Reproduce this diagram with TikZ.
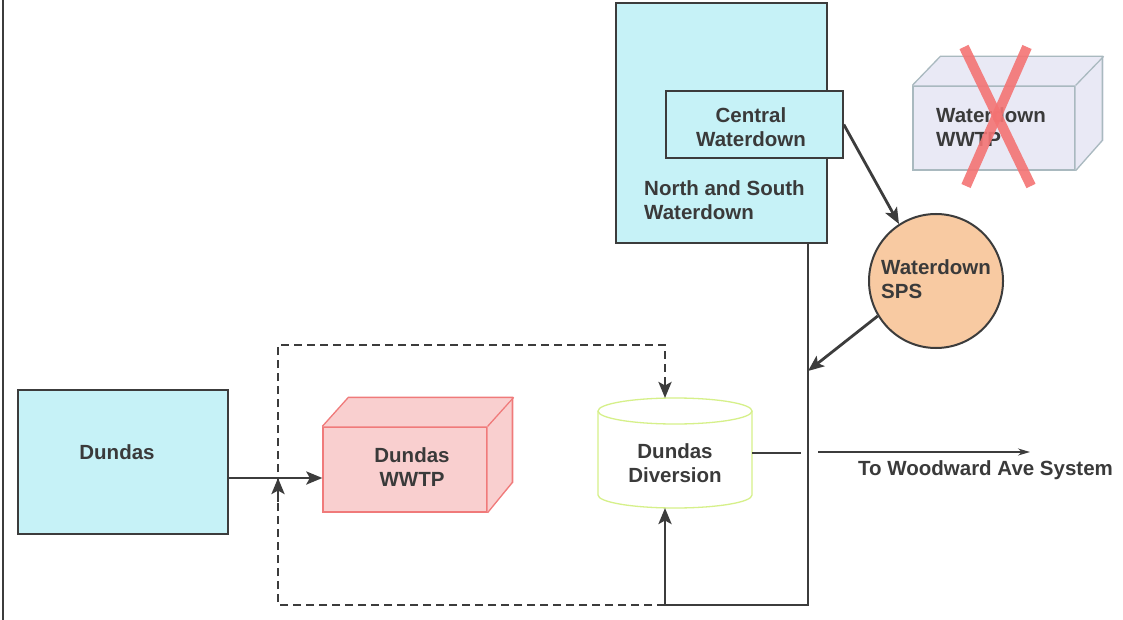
\documentclass[tikz,border=0pt]{standalone}
\usepackage{fontspec}
\setmainfont{Liberation Sans}
\usetikzlibrary{arrows.meta}
\definecolor{txt}{HTML}{3A3A3A}
\definecolor{edge}{HTML}{3C3C3C}
\definecolor{cyanfill}{HTML}{C6F2F7}
\definecolor{pinkfill}{HTML}{F9CFCF}
\definecolor{pinkedge}{HTML}{F07A7A}
\definecolor{lavfill}{HTML}{E9E9F5}
\definecolor{lavedge}{HTML}{A9B9BF}
\definecolor{peach}{HTML}{F8CAA2}
\definecolor{limeedge}{HTML}{D6F08A}
\definecolor{xred}{HTML}{F47474}
\tikzset{
  lbl/.style={font=\fontsize{20.5}{24.5}\selectfont\bfseries, text=txt, align=center, inner sep=0pt},
  cbox/.style={draw=edge, line width=1.6pt, fill=cyanfill, inner sep=0pt},
  pbox/.style={draw=pinkedge, line width=1.3pt, fill=pinkfill, inner sep=0pt},
  lbox/.style={draw=lavedge, line width=1.3pt, fill=lavfill, inner sep=0pt},
  arr/.style={draw=edge, line width=2.8pt, -{Stealth[length=16pt,width=13pt,inset=3.5pt]}},
  thinline/.style={draw=edge, line width=1.4pt},
  dashline/.style={draw=edge, line width=2.5pt, dash pattern=on 8pt off 5pt},
}
\begin{document}
\begin{tikzpicture}[x=1pt,y=-1pt]
\useasboundingbox (0,0) rectangle (1123,620);
\fill[white] (0,0) rectangle (1123,620);
% left frame line
\coordinate (ft) at (3,0);
\coordinate (fb) at (3,620);
\draw[edge, line width=2.4pt] (ft) -- (fb);

% North and South Waterdown
\node[cbox, minimum width=211, minimum height=240] (nsw) at (721.5,123) {};
\node[lbl, anchor=west, align=left] (nswl) at (644,200) {North and South\\Waterdown};
% Central Waterdown
\node[cbox, minimum width=177, minimum height=67] (cw) at (754.5,124.5) {};
\node[lbl] (cwl) at (751,127) {Central\\Waterdown};

% Waterdown WWTP (3D box)
\node[lbox, minimum width=162, minimum height=84] (wwtpw) at (994,128) {};
\fill[lavfill] (wwtpw.north west) -- ++(28,-29) -- ++(162,0) -- (wwtpw.north east) -- cycle;
\fill[lavfill] (wwtpw.north east) -- ++(28,-29) -- ++(0,84) -- (wwtpw.south east) -- cycle;
\draw[lavedge, line width=1.3pt] (wwtpw.north west) -- ++(28,-29) -- ++(162,0) -- ++(0,84) -- (wwtpw.south east);
\draw[lavedge, line width=1.3pt] (wwtpw.north east) -- ++(28,-29);
\node[lbl, anchor=west, align=left] (wwtpwl) at (936,127) {Waterdown\\WWTP};
% red X
\coordinate (x1) at (964,47);
\coordinate (x2) at (1031,186);
\coordinate (x3) at (1027,47);
\coordinate (x4) at (966,186);
\draw[xred, line width=10pt, opacity=0.9] (x1) -- (x2);
\draw[xred, line width=10pt, opacity=0.9] (x3) -- (x4);

% Waterdown SPS
\node[circle, draw=edge, line width=2pt, fill=peach, minimum size=134, inner sep=0pt] (sps) at (936,281) {};
\node[lbl, anchor=west, align=left] (spsl) at (881,279) {Waterdown\\SPS};

% trunk line
\coordinate (ttop) at (808,243);
\coordinate (tjoin) at (808,371);
\coordinate (tbot) at (808,605);
\coordinate (bj) at (665,605);
\draw[thinline] (ttop) -- (tbot) -- (bj);
\draw[arr] (cw.east) -- (sps.123);
\draw[arr] (sps.211) -- (tjoin);

% Dundas
\node[cbox, minimum width=210, minimum height=144] (dundas) at (123,462) {};
\node[lbl] (dundasl) at (117,452) {Dundas};

% Dundas WWTP (3D box)
\node[pbox, minimum width=164, minimum height=85] (dwwtp) at (405,469.5) {};
\fill[pinkfill] (dwwtp.north west) -- ++(26,-29) -- ++(164,0) -- (dwwtp.north east) -- cycle;
\fill[pinkfill] (dwwtp.north east) -- ++(26,-29) -- ++(0,85) -- (dwwtp.south east) -- cycle;
\draw[pinkedge, line width=1.3pt] (dwwtp.north west) -- ++(26,-29) -- ++(164,0) -- ++(0,85) -- (dwwtp.south east);
\draw[pinkedge, line width=1.3pt] (dwwtp.north east) -- ++(26,-29);
\node[lbl] (dwwtpl) at (412,467) {Dundas\\WWTP};

% Dundas Diversion (cylinder)
\node[minimum width=154, minimum height=110, inner sep=0pt] (div) at (675,453) {};
\fill[white] (598,411) -- (598,495) arc[start angle=180, end angle=0, x radius=77, y radius=13] -- (752,411) -- cycle;
\draw[limeedge, line width=1.3pt] (675,411) ellipse[x radius=77, y radius=13];
\draw[limeedge, line width=1.3pt] (598,411) -- (598,495) arc[start angle=180, end angle=0, x radius=77, y radius=13] -- (752,411);
\node[lbl] (divl) at (675,463) {Dundas\\Diversion};

% Dundas -> WWTP
\coordinate (dj) at (228,478);
\coordinate (dx) at (278,478);
\draw[arr] (dj) -- (dj -| dwwtp.west);

% dashed bypass
\coordinate (dl) at (278,605);
\coordinate (ul) at (278,345);
\coordinate (ur) at (665,345);
\coordinate (divtop) at (665,398);
\coordinate (divbot) at (665,508);
\draw[dashline] (bj) -- (dl) -- (ul) -- (ur) -- (665,385);
\draw[arr] (665,378) -- (divtop);
\draw[arr] (278,502) -- (dx);

% solid up into diversion
\draw[arr] (bj) -- (divbot);

% outflow
\coordinate (o1) at (752,453);
\coordinate (o2) at (801,453);
\coordinate (o3) at (818,452);
\coordinate (o4) at (1030,452);
\draw[thinline] (o1) -- (o2);
\draw[draw=edge, line width=1.6pt, -{Stealth[length=12pt,width=7pt]}] (o3) -- (o4);
\node[lbl] (woodl) at (985.5,470) {To Woodward Ave System};
\end{tikzpicture}
\end{document}
